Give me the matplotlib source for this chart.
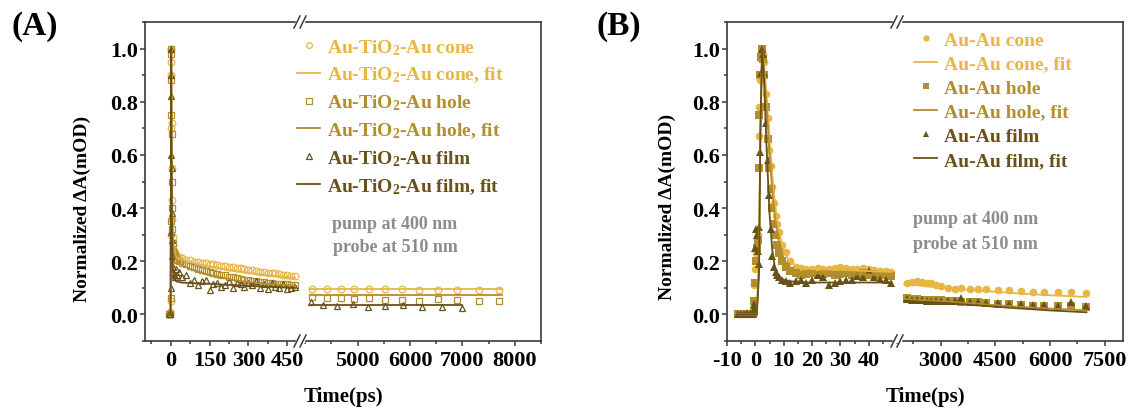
import matplotlib
matplotlib.use("Agg")
import matplotlib.pyplot as plt
from matplotlib.lines import Line2D
from matplotlib.ticker import MultipleLocator

plt.rcParams['font.family'] = ['Liberation Serif', 'DejaVu Serif']
plt.rcParams['font.weight'] = 'bold'
plt.rcParams['axes.unicode_minus'] = False
plt.rcParams['mathtext.fontset'] = 'custom'
plt.rcParams['mathtext.rm'] = 'Liberation Serif:bold'
plt.rcParams['mathtext.it'] = 'Liberation Serif:bold'
plt.rcParams['mathtext.bf'] = 'Liberation Serif:bold'
plt.rcParams['mathtext.default'] = 'rm'

# colours of the three samples
c_cone = '#E8B645'
c_hole = '#B38E2C'
c_film = '#6A5119'

# ---------------- panel A data (Au-TiO2-Au) ----------------
tA_early = [-6, -4, -2, -1, 0, 0.5, 1, 1.5, 2, 3, 4, 5, 6, 8, 10, 13, 16, 20, 25]
coneA_early = [0, 0, 0.01, 0.05, 0.3, 0.7, 0.95, 1.0, 0.9, 0.72, 0.55, 0.43, 0.36, 0.29, 0.26, 0.24, 0.23, 0.225, 0.22]
holeA_early = [0, 0, 0.0, 0.06, 0.35, 0.75, 0.98, 1.0, 0.88, 0.68, 0.5, 0.4, 0.32, 0.27, 0.24, 0.23, 0.22, 0.21, 0.205]
filmA_early = [0, 0, 0.01, 0.1, 0.31, 0.6, 0.9, 1.0, 0.82, 0.55, 0.38, 0.28, 0.22, 0.18, 0.16, 0.15, 0.14, 0.17, 0.15]

tA_tail = [30, 45, 60, 75, 90, 105, 120, 135, 150, 165, 180, 195, 210, 225, 240, 255,
           270, 285, 300, 315, 330, 345, 360, 375, 390, 405, 420, 435, 450, 465, 480]
coneA_tail = [0.215, 0.212, 0.206, 0.204, 0.199, 0.198, 0.194, 0.194, 0.189, 0.188, 0.186, 0.182,
              0.182, 0.178, 0.178, 0.174, 0.173, 0.169, 0.168, 0.166, 0.165, 0.161, 0.161, 0.157,
              0.157, 0.154, 0.153, 0.149, 0.149, 0.145, 0.143]
holeA_tail = [0.2, 0.194, 0.189, 0.181, 0.177, 0.171, 0.168, 0.162, 0.16, 0.155, 0.153, 0.148,
              0.147, 0.142, 0.141, 0.136, 0.135, 0.131, 0.13, 0.126, 0.126, 0.122, 0.122, 0.119,
              0.119, 0.116, 0.116, 0.113, 0.114, 0.111, 0.11]
filmA_tail = [0.16, 0.14, 0.15, 0.12, 0.13, 0.11, 0.125, 0.13, 0.09, 0.115, 0.12, 0.105, 0.11,
              0.125, 0.1, 0.12, 0.115, 0.105, 0.12, 0.11, 0.125, 0.1, 0.115, 0.095, 0.12, 0.105,
              0.1, 0.115, 0.095, 0.1, 0.105]

tA_fit = [-6, -1, 0, 1, 1.5, 2, 3, 5, 8, 12, 20, 40, 80, 150, 250, 350, 480]
coneA_fit = [0, 0, 0.3, 0.9, 1.0, 0.9, 0.7, 0.42, 0.28, 0.235, 0.215, 0.207, 0.195, 0.18, 0.162, 0.15, 0.137]
holeA_fit = [0, 0, 0.3, 0.9, 1.0, 0.88, 0.66, 0.4, 0.27, 0.23, 0.205, 0.188, 0.168, 0.148, 0.128, 0.117, 0.108]
filmA_fit = [0, 0, 0.3, 0.9, 1.0, 0.8, 0.5, 0.27, 0.17, 0.14, 0.125, 0.12, 0.118, 0.115, 0.11, 0.105, 0.1]

tA_late = [4135, 4420, 4675, 4940, 5210, 5520, 5845, 6175, 6540, 6900, 7310, 7690]
coneA_late = [0.095, 0.095, 0.095, 0.095, 0.095, 0.094, 0.094, 0.09, 0.09, 0.09, 0.093, 0.09]
holeA_late = [0.065, 0.06, 0.06, 0.058, 0.06, 0.056, 0.056, 0.052, 0.057, 0.056, 0.052, 0.05]
tA_late_film = [4115, 4345, 4615, 4905, 5190, 5520, 5865, 6230, 6615, 7000]
filmA_late = [0.045, 0.035, 0.03, 0.04, 0.028, 0.03, 0.035, 0.028, 0.027, 0.025]
tA_late_fit = [4100, 7750]
tA_late_fit_film = [4100, 7000]
coneA_late_fit = [0.095, 0.095]
holeA_late_fit = [0.073, 0.073]
filmA_late_fit = [0.036, 0.036]

# ---------------- panel B data (Au-Au) ----------------
tB = [-6, -5, -4, -3, -2, -1, -0.5, -0.3, 0, 0.3, 0.5, 0.8, 1.2, 1.4, 1.7, 2.0, 2.3, 2.7,
      3.1, 3.7, 4.3, 4.9, 5.5, 6.0, 6.6, 7.2, 7.8, 8.4, 9.5, 10.7, 12.4, 14.2, 16, 18, 20,
      22, 24, 26, 28, 30, 32, 34, 36, 38, 40, 42, 44, 46, 48]
coneB = [0, 0, 0, 0, 0, 0, 0.02, 0.11, 0.17, 0.23, 0.28, 0.3, 0.67, 0.78, 0.88, 0.96, 1.0,
         0.98, 0.95, 0.83, 0.74, 0.62, 0.56, 0.48, 0.42, 0.37, 0.34, 0.31, 0.26, 0.235, 0.2,
         0.18, 0.175, 0.17, 0.172, 0.175, 0.17, 0.172, 0.175, 0.18, 0.175, 0.172, 0.17, 0.175,
         0.17, 0.168, 0.165, 0.162, 0.16]
holeB = [0, 0, 0, 0, 0, 0, 0.01, 0.05, 0.12, 0.2, 0.25, 0.28, 0.55, 0.75, 0.9, 0.97, 1.0,
         0.96, 0.9, 0.78, 0.66, 0.55, 0.47, 0.4, 0.34, 0.3, 0.26, 0.23, 0.2, 0.18, 0.165,
         0.155, 0.15, 0.152, 0.155, 0.15, 0.152, 0.155, 0.15, 0.153, 0.155, 0.15, 0.152,
         0.155, 0.15, 0.152, 0.15, 0.148, 0.145]
filmB = [0, 0, 0, 0.005, 0, 0, 0.02, 0.04, 0.25, 0.32, 0.3, 0.24, 0.19, 0.33, 0.61, 0.91,
         1.0, 0.98, 0.91, 0.72, 0.58, 0.45, 0.32, 0.22, 0.18, 0.16, 0.15, 0.14, 0.13, 0.125,
         0.12, 0.125, 0.13, 0.12, 0.13, 0.15, 0.14, 0.11, 0.12, 0.125, 0.13, 0.13, 0.145,
         0.14, 0.165, 0.14, 0.135, 0.13, 0.12]

tB_fit = [-6, 0.5, 1.3, 1.8, 2.4, 3, 4, 5, 6, 7, 8, 10, 12, 15, 20, 30, 40, 48]
coneB_fit = [0, 0, 0.2, 0.7, 1.0, 0.95, 0.82, 0.66, 0.52, 0.41, 0.33, 0.24, 0.2, 0.18, 0.17, 0.168, 0.163, 0.16]
holeB_fit = [0, 0, 0.2, 0.7, 1.0, 0.93, 0.78, 0.6, 0.46, 0.36, 0.29, 0.21, 0.18, 0.16, 0.155, 0.152, 0.15, 0.148]
filmB_fit = [0, 0, 0.15, 0.7, 1.0, 0.9, 0.62, 0.38, 0.24, 0.17, 0.145, 0.13, 0.125, 0.122, 0.12, 0.12, 0.12, 0.12]

tB_late = [2065, 2200, 2337, 2473, 2610, 2746, 2883, 3019, 3201, 3383, 3565, 3793, 4020,
           4247, 4566, 4885, 5204, 5522, 5840, 6204, 6569, 6978]
coneB_late = [0.119, 0.122, 0.124, 0.122, 0.119, 0.117, 0.11, 0.106, 0.1, 0.097, 0.098, 0.097,
              0.095, 0.094, 0.092, 0.09, 0.088, 0.085, 0.084, 0.084, 0.085, 0.08]
holeB_late = [0.062, 0.058, 0.057, 0.056, 0.056, 0.055, 0.054, 0.054, 0.052, 0.05, 0.048, 0.047,
              0.045, 0.043, 0.04, 0.038, 0.035, 0.033, 0.032, 0.03, 0.03, 0.028]
filmB_late = [0.058, 0.055, 0.054, 0.053, 0.052, 0.052, 0.05, 0.05, 0.05, 0.05, 0.062, 0.048,
              0.046, 0.044, 0.042, 0.04, 0.038, 0.036, 0.034, 0.033, 0.045, 0.03]
tB_late_fit = [2000, 3000, 4000, 5000, 6000, 7000]
coneB_late_fit = [0.115, 0.1, 0.09, 0.08, 0.072, 0.066]
holeB_late_fit = [0.058, 0.05, 0.04, 0.03, 0.022, 0.015]
filmB_late_fit = [0.05, 0.044, 0.034, 0.024, 0.015, 0.008]

labelsA = ['Au-TiO$_2$-Au cone', 'Au-TiO$_2$-Au cone, fit', 'Au-TiO$_2$-Au hole',
           'Au-TiO$_2$-Au hole, fit', 'Au-TiO$_2$-Au film', 'Au-TiO$_2$-Au film, fit']
labelsB = ['Au-Au cone', 'Au-Au cone, fit', 'Au-Au hole', 'Au-Au hole, fit',
           'Au-Au film', 'Au-Au film, fit']

W, H = 1131, 414
fig = plt.figure(figsize=(W / 100, H / 100), dpi=100)


def fx(px):
    return px / W


def fy(py):
    return 1 - py / H


spine_col = '#3a3a3a'


def make_pair(x0, xb, x1, y0, y1):
    a1 = fig.add_axes([fx(x0), fy(y1), fx(xb - x0), fy(y0) - fy(y1)])
    a2 = fig.add_axes([fx(xb), fy(y1), fx(x1 - xb), fy(y0) - fy(y1)])
    for a in (a1, a2):
        a.set_ylim(-0.1, 1.1)
        for s in a.spines.values():
            s.set_color(spine_col)
            s.set_linewidth(1.2)
        a.tick_params(which='both', direction='out', color=spine_col, width=1.1,
                      labelsize=16, top=False, right=False)
        a.tick_params(which='major', length=3.6, pad=3)
        a.tick_params(which='minor', length=2.2)
        a.patch.set_alpha(0)
    a1.spines['right'].set_visible(False)
    a2.spines['left'].set_visible(False)
    a2.tick_params(axis='y', which='both', left=False, labelleft=False)
    a1.yaxis.set_minor_locator(MultipleLocator(0.1))
    a1.set_yticks([0, 0.2, 0.4, 0.6, 0.8, 1.0])
    a1.set_yticklabels(['0.0', '0.2', '0.4', '0.6', '0.8', '1.0'])
    a1.tick_params(axis='y', pad=1.5)
    # break marks
    for yy in (y0, y1):
        fig.add_artist(Line2D([fx(xb - 3), fx(xb + 3)], [fy(yy), fy(yy)],
                              color='white', lw=2.5, transform=fig.transFigure, zorder=10))
        for dx in (-3, 3):
            fig.add_artist(Line2D([fx(xb + dx - 3), fx(xb + dx + 3)], [fy(yy + 6), fy(yy - 6)],
                                  color=spine_col, lw=1.1, transform=fig.transFigure, zorder=11))
    return a1, a2


# ---------------- panel A ----------------
axA1, axA2 = make_pair(145, 300, 541, 23, 342)
axA1.set_xlim(-100, 500)
axA1.set_xticks([0, 150, 300, 450])
axA1.xaxis.set_minor_locator(MultipleLocator(75))
axA2.set_xlim(3900, 8500)
axA2.set_xticks([5000, 6000, 7000, 8000])
axA2.xaxis.set_minor_locator(MultipleLocator(500))

open_kw = dict(linestyle='none', markerfacecolor='none', markersize=4.8, markeredgewidth=0.9)
for t, y, col, mk in [(tA_early + tA_tail, coneA_early + coneA_tail, c_cone, 'o'),
                      (tA_early + tA_tail, holeA_early + holeA_tail, c_hole, 's'),
                      (tA_early + tA_tail, filmA_early + filmA_tail, c_film, '^')]:
    axA1.plot(t, y, marker=mk, color=col, **open_kw)
for y, col in [(coneA_fit, c_cone), (holeA_fit, c_hole), (filmA_fit, c_film)]:
    axA1.plot(tA_fit, y, color=col, lw=1.3)

axA2.plot(tA_late, coneA_late, marker='o', color=c_cone, **open_kw)
axA2.plot(tA_late, holeA_late, marker='s', color=c_hole, **open_kw)
axA2.plot(tA_late_film, filmA_late, marker='^', color=c_film, **open_kw)
axA2.plot(tA_late_fit, coneA_late_fit, color=c_cone, lw=1.3)
axA2.plot(tA_late_fit, holeA_late_fit, color=c_hole, lw=1.3)
axA2.plot(tA_late_fit_film, filmA_late_fit, color=c_film, lw=1.3)

leg_open = dict(open_kw, markersize=4.2)
hA = [Line2D([], [], marker='o', color=c_cone, **leg_open),
      Line2D([], [], color=c_cone, lw=1.3),
      Line2D([], [], marker='s', color=c_hole, **leg_open),
      Line2D([], [], color=c_hole, lw=1.3),
      Line2D([], [], marker='^', color=c_film, **leg_open),
      Line2D([], [], color=c_film, lw=1.3)]
axA2.legend(hA, labelsA, loc='upper left', bbox_to_anchor=(fx(297), fy(38)),
            bbox_transform=fig.transFigure, frameon=False, fontsize=14, numpoints=1,
            handlelength=1.2, handletextpad=0.35, labelspacing=0.42, borderpad=0,
            borderaxespad=0, labelcolor='linecolor')
fig.text(fx(395), fy(225), 'pump at 400 nm', ha='center', va='center', fontsize=13, color='#8c8c8c')
fig.text(fx(395), fy(248), 'probe at 510 nm', ha='center', va='center', fontsize=13, color='#8c8c8c')

fig.text(fx(343), fy(397), 'Time(ps)', ha='center', va='center', fontsize=15)
fig.text(fx(82), fy(209), 'Normalized ΔA(mOD)', ha='center', va='center', rotation=90, fontsize=14)
fig.text(fx(11), fy(27), '(A)', ha='left', va='center', fontsize=24)

# ---------------- panel B ----------------
axB1, axB2 = make_pair(727, 897, 1123, 23, 342)
axB1.set_xlim(-10, 50)
axB1.set_xticks([-10, 0, 10, 20, 30, 40])
axB1.xaxis.set_minor_locator(MultipleLocator(5))
axB2.set_xlim(1800, 8000)
axB2.set_xticks([3000, 4500, 6000, 7500])
axB2.xaxis.set_minor_locator(MultipleLocator(750))

fill_kw = dict(linestyle='none', markersize=5.5, markeredgewidth=0)
axB1.plot(tB, coneB, marker='o', color=c_cone, **fill_kw)
axB1.plot(tB, holeB, marker='s', color=c_hole, **fill_kw)
axB1.plot(tB, filmB, marker='^', color=c_film, **fill_kw)
for y, col in [(coneB_fit, c_cone), (holeB_fit, c_hole), (filmB_fit, c_film)]:
    axB1.plot(tB_fit, y, color=col, lw=1.3)

axB2.plot(tB_late, coneB_late, marker='o', color=c_cone, **fill_kw)
axB2.plot(tB_late, holeB_late, marker='s', color=c_hole, **fill_kw)
axB2.plot(tB_late, filmB_late, marker='^', color=c_film, **fill_kw)
for y, col in [(coneB_late_fit, c_cone), (holeB_late_fit, c_hole), (filmB_late_fit, c_film)]:
    axB2.plot(tB_late_fit, y, color=col, lw=1.3)

leg_fill = dict(fill_kw, markersize=4.5)
hB = [Line2D([], [], marker='o', color=c_cone, **leg_fill),
      Line2D([], [], color=c_cone, lw=1.3),
      Line2D([], [], marker='s', color=c_hole, **leg_fill),
      Line2D([], [], color=c_hole, lw=1.3),
      Line2D([], [], marker='^', color=c_film, **leg_fill),
      Line2D([], [], color=c_film, lw=1.3)]
axB2.legend(hB, labelsB, loc='upper left', bbox_to_anchor=(fx(914), fy(32)),
            bbox_transform=fig.transFigure, frameon=False, fontsize=14, numpoints=1,
            handlelength=1.2, handletextpad=0.35, labelspacing=0.33, borderpad=0,
            borderaxespad=0, labelcolor='linecolor')
fig.text(fx(913), fy(220), 'pump at 400 nm', ha='left', va='center', fontsize=13, color='#8c8c8c')
fig.text(fx(913), fy(245), 'probe at 510 nm', ha='left', va='center', fontsize=13, color='#8c8c8c')

fig.text(fx(925), fy(397), 'Time(ps)', ha='center', va='center', fontsize=15)
fig.text(fx(667), fy(207), 'Normalized ΔA(mOD)', ha='center', va='center', rotation=90, fontsize=14)
fig.text(fx(596), fy(27), '(B)', ha='left', va='center', fontsize=24)

fig.savefig('out.png', dpi=100)
